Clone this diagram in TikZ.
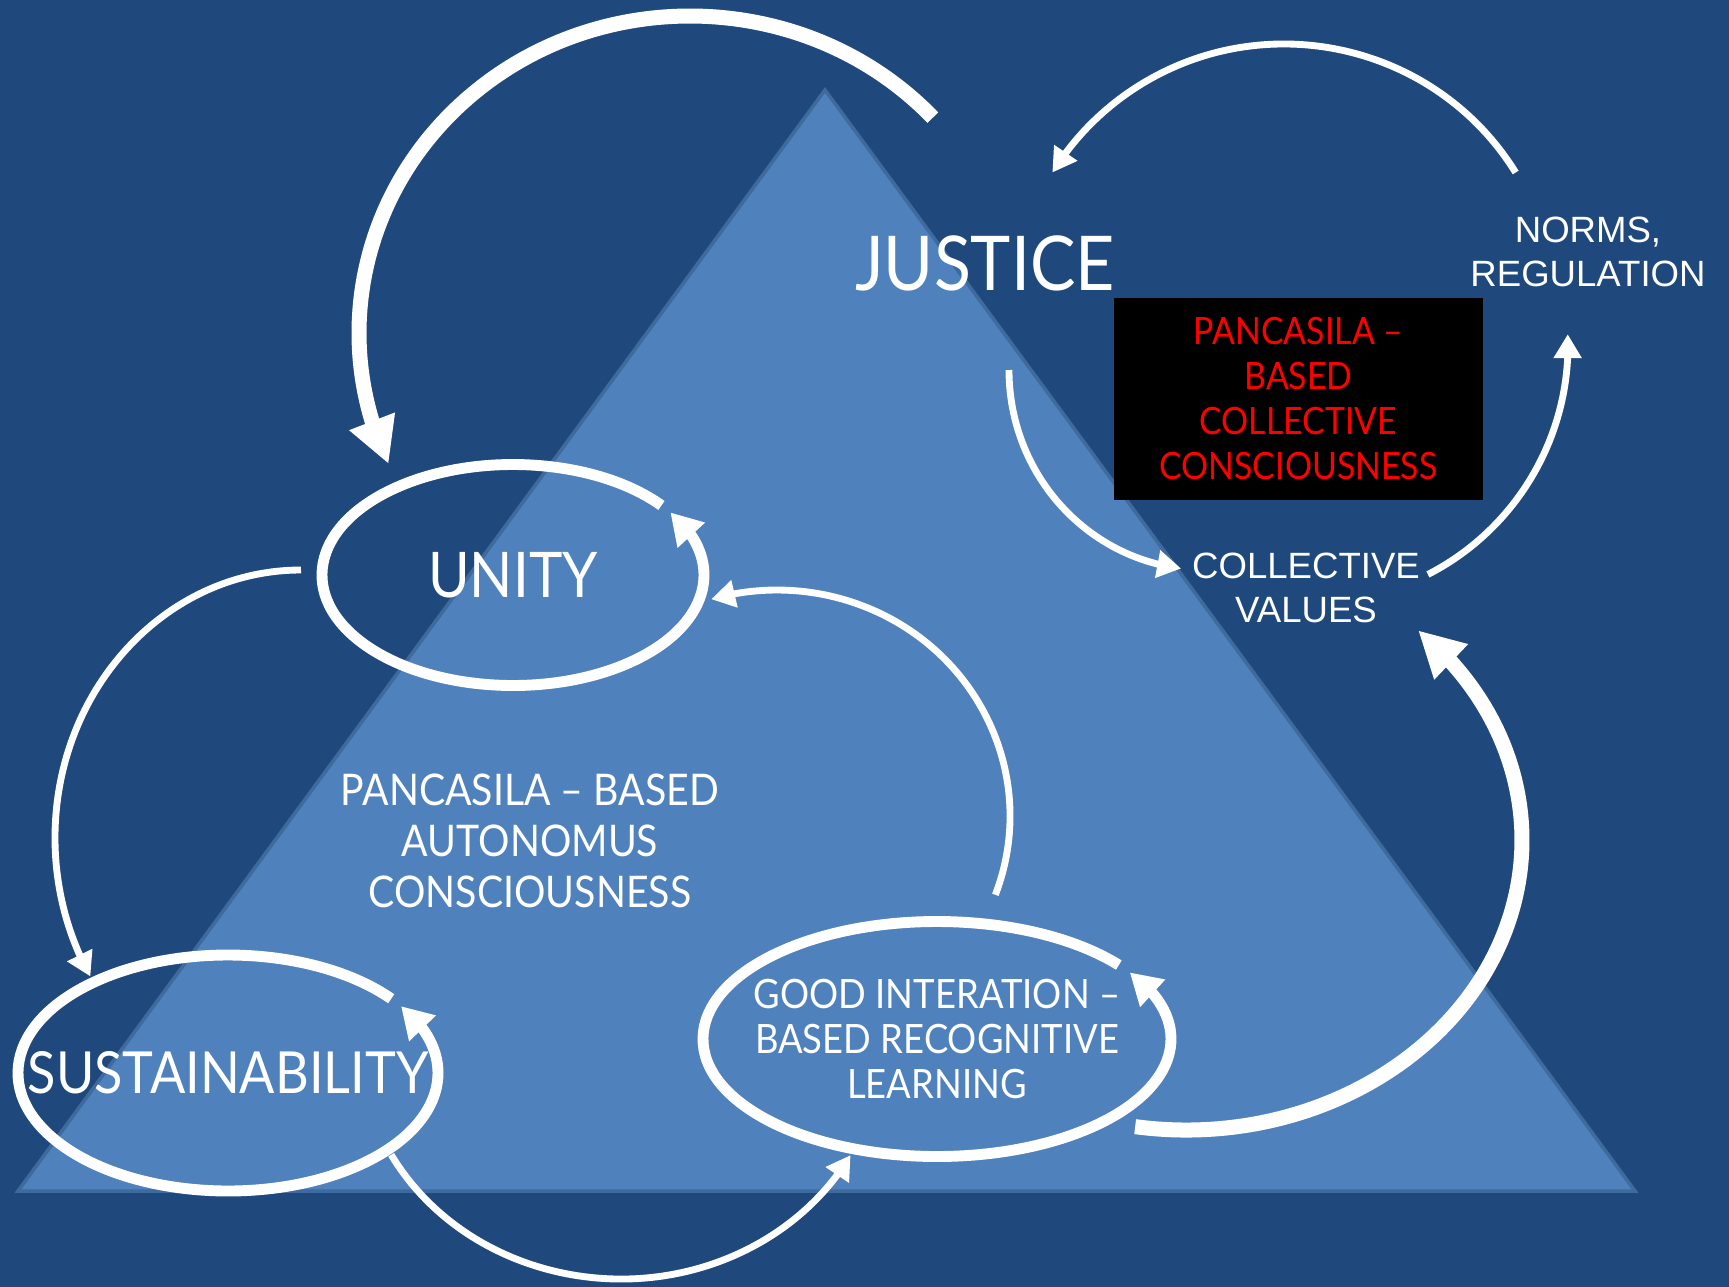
\documentclass[tikz,border=0pt]{standalone}
\usepackage{fontspec}
\setmainfont{Liberation Sans}
\newfontfamily\pap[FakeStretch=0.9]{Lato}
\usetikzlibrary{arrows.meta,bending}
\definecolor{bg}{HTML}{1F497D}
\definecolor{tri}{HTML}{4F81BD}
\definecolor{triedge}{HTML}{3F6A9E}
\begin{document}
\begin{tikzpicture}[x=0.01cm,y=-0.01cm,
  big/.style={draw=white, line width=4.27pt, -{Triangle[length=13pt,width=13pt]}},
  thin/.style={draw=white, line width=1.95pt, -{Triangle[length=6.8pt,width=7.6pt]}},
  ring/.style={draw=white, line width=3.1pt, -{Triangle[length=8.8pt,width=10pt]}},
  ptxt/.style={text=white, inner sep=0pt, align=center},
  atxt/.style={text=white, inner sep=0pt, align=center, font=\fontsize{10.4pt}{12.5pt}\selectfont}]
\useasboundingbox (0,0) rectangle (1729,1287);
\fill[bg] (0,0) rectangle (1729,1287);
\draw[triedge, fill=tri, line width=1pt] (825,90) -- (1635,1191) -- (18,1191) -- cycle;

% text nodes
\node[ptxt, font=\pap\fontsize{21.5pt}{24pt}\selectfont] (justice) at (985,263) {JUSTICE};
\node[ptxt, font=\pap\fontsize{17.9pt}{20pt}\selectfont] (unity) at (513,575) {UNITY};
\node[ptxt, font=\pap\fontsize{16.5pt}{20pt}\selectfont] (sust) at (228,1073) {SUSTAINABILITY};
\node[ptxt, font=\pap\fontsize{11.5pt}{12.9pt}\selectfont] (good) at (937,1039) {GOOD INTERATION –\\BASED RECOGNITIVE\\LEARNING};
\node[ptxt, font=\pap\fontsize{12.4pt}{14.5pt}\selectfont] (auto) at (530,841) {PANCASILA – BASED\\AUTONOMUS\\CONSCIOUSNESS};
\node[fill=black, text=red, align=center, inner sep=0pt, minimum width=3.69cm, minimum height=2.02cm,
      font=\pap\fontsize{10.7pt}{12.8pt}\selectfont] (box) at (1298.5,399) {PANCASILA –\\BASED\\COLLECTIVE\\CONSCIOUSNESS};
\node[atxt] (norms) at (1588,252) {NORMS,\\REGULATION};
\node[atxt] (cv) at (1306,588) {COLLECTIVE\\VALUES};

% arc centres
\coordinate (cA) at (690,333);
\coordinate (cB) at (1284,314);
\coordinate (cC) at (1205,370);
\coordinate (cD) at (1310,345);
\coordinate (cE) at (301,838);
\coordinate (cF) at (777,816);
\coordinate (cG) at (621,1040);
\coordinate (cH) at (1186,840);

% rings around the three ellipses
\draw[ring] ([shift={(-39:191 and 110.5)}]unity.center) arc[start angle=-39, end angle=-394.5, x radius=191, y radius=110.5];
\draw[ring] ([shift={(-39:210 and 118)}]sust.center) arc[start angle=-39, end angle=-394.5, x radius=210, y radius=118];
\draw[ring] ([shift={(-39:234 and 117.5)}]good.center) arc[start angle=-39, end angle=-394.5, x radius=234, y radius=117.5];

% connectors
\draw[big] ([shift={(-42.8:331 and 317)}]cA) arc[start angle=-42.8, end angle=-204.4, x radius=331, y radius=317];
\draw[thin] ([shift={(-31.6:272 and 270)}]cB) arc[start angle=-31.6, end angle=-148.4, x radius=272, y radius=270];
\draw[thin] ([shift={(180:196 and 200)}]cC) arc[start angle=180, end angle=97, x radius=196, y radius=200];
\draw[thin] ([shift={(62.8:258 and 258)}]cD) arc[start angle=62.8, end angle=-2.4, x radius=258, y radius=258];
\draw[thin] ([shift={(-90:246 and 268)}]cE) arc[start angle=-90, end angle=-211.1, x radius=246, y radius=268];
\draw[thin] ([shift={(20.4:233 and 226)}]cF) arc[start angle=20.4, end angle=-106.4, x radius=233, y radius=226];
\draw[thin] ([shift={(151.3:262 and 239)}]cG) arc[start angle=151.3, end angle=28.8, x radius=262, y radius=239];
\draw[big] ([shift={(98.7:336 and 290)}]cH) arc[start angle=98.7, end angle=-46.3, x radius=336, y radius=290];
\end{tikzpicture}
\end{document}
